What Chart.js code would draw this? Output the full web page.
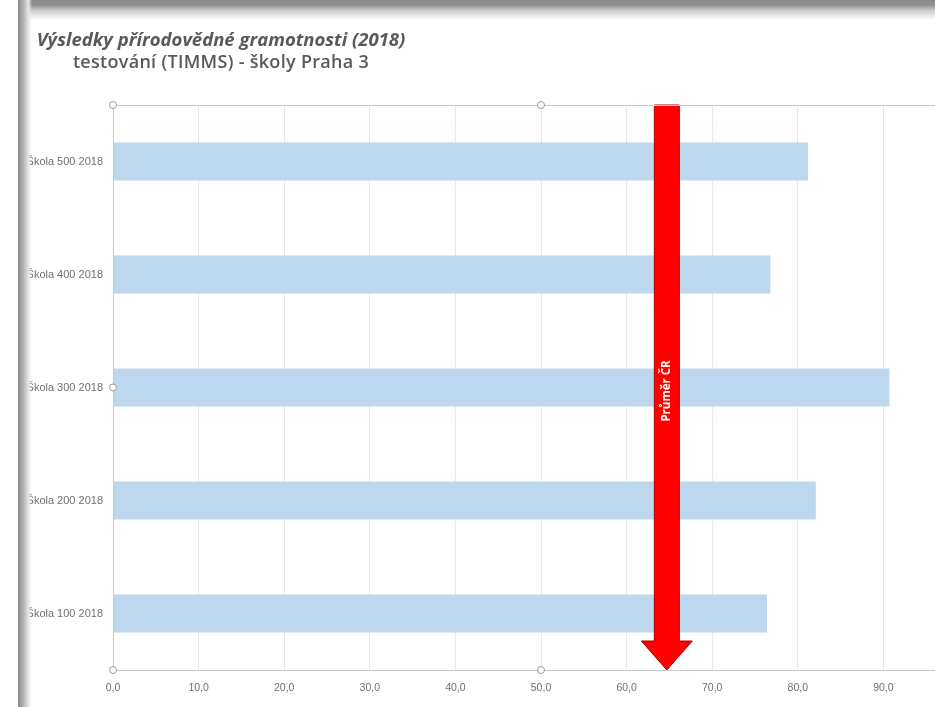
<!DOCTYPE html>
<html lang="cs">
<head>
<meta charset="utf-8">
<title>Výsledky přírodovědné gramotnosti (2018)</title>
<script src="https://cdn.jsdelivr.net/npm/chart.js@4.4.1/dist/chart.umd.min.js"></script>
<style>
  html, body { margin: 0; padding: 0; background: #fff; overflow: hidden; }
  #wrap { position: relative; width: 935px; height: 707px; overflow: hidden; }
  #chart { position: absolute; left: 0; top: 0; }
  .edgeLeft { position: absolute; left: 18px; top: 0; width: 14px; height: 707px;
    background: linear-gradient(to right, #8a8a8a 0%, #a8a8a8 30%, #e6e6e6 75%, rgba(255,255,255,0) 100%); }
  .edgeTop { position: absolute; left: 18px; top: 0; width: 917px; height: 20px;
    background: linear-gradient(to bottom, #8a8a8a 0%, #909090 25%, #d0d0d0 55%, rgba(255,255,255,0) 100%); }
  #title { position: absolute; left: 21px; top: 27px; width: 400px; text-align: center;
    color: #595959; font-family: "Open Sans", sans-serif; line-height: 23px; white-space: nowrap; }
  #title .l1 { font-size: 18.5px; font-weight: bold; font-style: italic; }
  #title .l2 { font-size: 18px; font-weight: 600; letter-spacing: 0.3px; }
</style>
</head>
<body>
<div id="wrap">
  <canvas id="chart" width="1000" height="707"></canvas>
  <div id="title">
    <div class="l1">Výsledky přírodovědné gramotnosti (2018)</div>
    <div class="l2">testování (TIMMS) - školy Praha 3</div>
  </div>
  <div class="edgeTop"></div>
  <div class="edgeLeft"></div>
</div>
<script>
const skoly = ["Škola 100 2018", "Škola 200 2018", "Škola 300 2018", "Škola 400 2018", "Škola 500 2018"];
const vysledky = [76.4, 82.1, 90.7, 76.8, 81.2];
const prumerCR = 64.7;
const prumerPopis = "Průměr ČR";
const osaMin = 0;
const osaMax = 100;
const osaKrok = 10;

// ramecek plochy grafu + uchyty vyberu
const ramecekPlugin = {
  id: "ramecek",
  afterDatasetsDraw(chart) {
    const { ctx, chartArea: a } = chart;
    ctx.save();
    ctx.strokeStyle = "#c9c9c9";
    ctx.lineWidth = 1;
    ctx.strokeRect(Math.round(a.left) + 0.5, Math.round(a.top) + 0.5, Math.round(a.width), Math.round(a.height));
    ctx.restore();
  },
  afterDraw(chart) {
    const { ctx, chartArea: a } = chart;
    const midX = (a.left + a.right) / 2;
    const midY = (a.top + a.bottom) / 2;
    const body = [[a.left, a.top], [midX, a.top], [a.left, midY], [a.left, a.bottom], [midX, a.bottom]];
    ctx.save();
    body.forEach(([x, y]) => {
      ctx.beginPath();
      ctx.arc(x, y, 3.5, 0, Math.PI * 2);
      ctx.fillStyle = "#fff";
      ctx.fill();
      ctx.strokeStyle = "#9a9a9a";
      ctx.lineWidth = 1;
      ctx.stroke();
    });
    ctx.restore();
  },
};

// cervena sipka s prumerem CR
const sipkaPlugin = {
  id: "sipka",
  afterDatasetsDraw(chart) {
    const { ctx, chartArea: a, scales } = chart;
    const cx = scales.x.getPixelForValue(prumerCR);
    const shaft = 12.5;
    const head = 25.5;
    const headH = 29;
    const tipY = a.bottom;
    const baseY = tipY - headH;
    ctx.save();
    ctx.beginPath();
    ctx.moveTo(cx - shaft, a.top);
    ctx.lineTo(cx + shaft, a.top);
    ctx.lineTo(cx + shaft, baseY);
    ctx.lineTo(cx + head, baseY);
    ctx.lineTo(cx, tipY);
    ctx.lineTo(cx - head, baseY);
    ctx.lineTo(cx - shaft, baseY);
    ctx.closePath();
    ctx.fillStyle = "#ff0000";
    ctx.fill();
    ctx.strokeStyle = "#b00000";
    ctx.lineWidth = 1;
    ctx.stroke();

    ctx.translate(cx, 391);
    ctx.rotate(-Math.PI / 2);
    ctx.fillStyle = "#fff";
    ctx.font = "bold 11.5px 'Open Sans', sans-serif";
    ctx.textAlign = "center";
    ctx.textBaseline = "middle";
    ctx.fillText(prumerPopis, 0, 0);
    ctx.restore();
  },
};

new Chart(document.getElementById("chart").getContext("2d"), {
  type: "bar",
  data: {
    labels: skoly,
    datasets: [
      {
        label: "Výsledek",
        data: vysledky,
        backgroundColor: "#bdd7ee",
        categoryPercentage: 1,
        barPercentage: 0.336,
      },
    ],
  },
  options: {
    indexAxis: "y",
    responsive: false,
    animation: false,
    layout: {
      padding: { top: 105, right: 31, left: 0, bottom: 0 },
    },
    plugins: {
      legend: { display: false },
      tooltip: { enabled: false },
    },
    scales: {
      x: {
        min: osaMin,
        max: osaMax,
        ticks: {
          stepSize: osaKrok,
          padding: 12,
          color: "#707070",
          font: { family: "'Liberation Sans', sans-serif", size: 10.5 },
          callback: (v) => v.toFixed(1).replace(".", ","),
        },
        grid: { color: "#e8e8e8", drawTicks: false },
        border: { display: false },
        afterFit(scale) {
          scale.height = 37;
        },
      },
      y: {
        reverse: true,
        ticks: {
          padding: 10,
          color: "#707070",
          font: { family: "'Liberation Sans', sans-serif", size: 11 },
        },
        grid: { display: false, drawTicks: false },
        border: { display: false },
        afterFit(scale) {
          scale.width = 113;
        },
      },
    },
  },
  plugins: [sipkaPlugin, ramecekPlugin],
});
</script>
</body>
</html>
